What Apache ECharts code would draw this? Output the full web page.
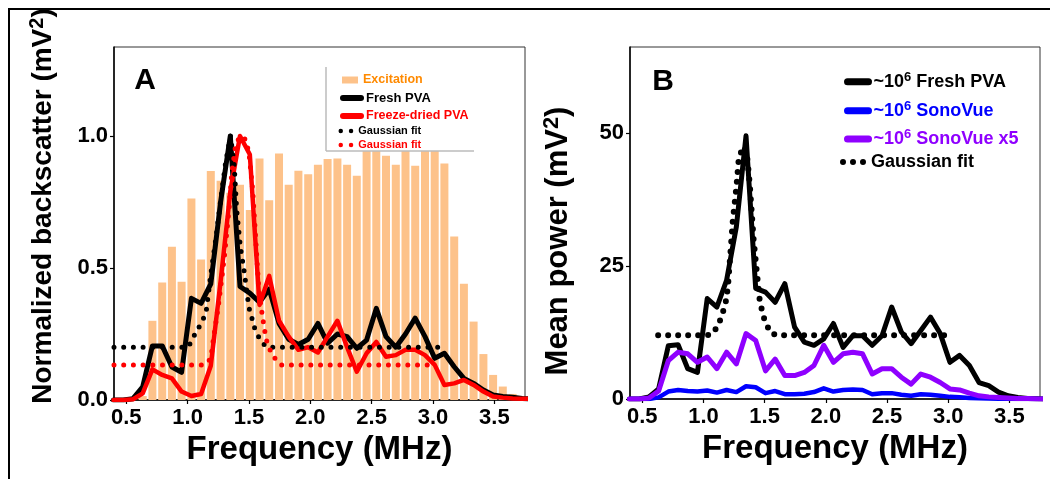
<!DOCTYPE html>
<html><head><meta charset="utf-8">
<script src="https://cdn.jsdelivr.net/npm/echarts@6/dist/echarts.min.js"></script>
<style>html,body{margin:0;padding:0;background:#fff}#c{width:1054px;height:479px}</style>
</head><body><div id="c"></div><script>
// ---------- data ----------
const xTicks = [0.5, 1.0, 1.5, 2.0, 2.5, 3.0, 3.5];
const yTicksA = [0, 0.5, 1.0];
const yTicksB = [0, 25, 50];

const freqBars = [0.634, 0.713, 0.793, 0.872, 0.951, 1.031, 1.110, 1.189, 1.269, 1.348,
  1.427, 1.507, 1.586, 1.665, 1.745, 1.824, 1.903, 1.983, 2.062, 2.141,
  2.221, 2.300, 2.379, 2.459, 2.538, 2.617, 2.697, 2.776, 2.855, 2.935,
  3.014, 3.093, 3.173, 3.252, 3.331, 3.411, 3.490, 3.569, 3.649, 3.728];
const excitation = [0.015, 0.30, 0.445, 0.58, 0.448, 0.763, 0.532, 0.867, 0.83, 0.785,
  0.815, 0.72, 0.915, 0.757, 0.934, 0.815, 0.868, 0.855, 0.891, 0.913,
  0.915, 0.891, 0.849, 0.97, 0.99, 0.925, 0.891, 0.96, 0.887, 0.98,
  0.97, 0.896, 0.619, 0.44, 0.297, 0.174, 0.095, 0.051, 0.023, 0.012];

const freqLines = [0.396, 0.476, 0.555, 0.634, 0.713, 0.793, 0.872, 0.951, 1.031, 1.110,
  1.189, 1.269, 1.348, 1.427, 1.507, 1.586, 1.665, 1.745, 1.824, 1.903,
  1.983, 2.062, 2.141, 2.221, 2.300, 2.379, 2.459, 2.538, 2.617, 2.697,
  2.776, 2.855, 2.935, 3.014, 3.093, 3.173, 3.252, 3.331, 3.411, 3.490,
  3.569, 3.649, 3.728, 3.808];
const freshA = [0, 0, 0.005, 0.05, 0.205, 0.205, 0.125, 0.105, 0.385, 0.366,
  0.44, 0.75, 1.0, 0.43, 0.405, 0.37, 0.42, 0.29, 0.23, 0.21,
  0.23, 0.29, 0.215, 0.25, 0.24, 0.196, 0.227, 0.347, 0.24, 0.2,
  0.25, 0.31, 0.24, 0.158, 0.177, 0.126, 0.082, 0.063, 0.038, 0.019,
  0.013, 0.01, 0.006, 0.004];
const freezeDriedA = [0, 0, 0.003, 0.025, 0.116, 0.095, 0.082, 0.032, 0.015, 0.023,
  0.13, 0.45, 0.79, 1.0, 0.93, 0.36, 0.47, 0.30, 0.24, 0.19,
  0.2, 0.18, 0.24, 0.30, 0.2, 0.107, 0.177, 0.22, 0.164, 0.17,
  0.19, 0.19, 0.17, 0.133, 0.057, 0.063, 0.076, 0.057, 0.032, 0.013,
  0.009, 0.006, 0.005, 0.004];

const fitFreshAx = [0.40, 1.00, 1.03, 1.06, 1.11, 1.15, 1.19, 1.23, 1.27, 1.31, 1.35,
  1.38, 1.40, 1.43, 1.46, 1.50, 1.53, 1.55, 1.60, 1.65, 3.07];
const fitFreshAy = [0.20, 0.20, 0.22, 0.25, 0.29, 0.33, 0.48, 0.61, 0.76, 0.90, 1.00,
  0.886, 0.72, 0.58, 0.49, 0.35, 0.30, 0.266, 0.22, 0.20, 0.20];
const fitFreezeAx = [0.40, 1.12, 1.16, 1.19, 1.21, 1.25, 1.30, 1.34, 1.36, 1.39, 1.42,
  1.445, 1.47, 1.50, 1.53, 1.555, 1.58, 1.61, 1.64, 1.68, 1.72, 1.76, 2.96];
const fitFreezeAy = [0.133, 0.133, 0.14, 0.16, 0.23, 0.354, 0.544, 0.734, 0.861, 0.96, 0.994,
  1.0, 0.987, 0.937, 0.797, 0.61, 0.42, 0.316, 0.23, 0.18, 0.152, 0.133, 0.133];

const freshB = [0, 0, 0.4, 1.9, 10.0, 10.2, 5.7, 5.0, 18.9, 17.3,
  22.3, 32.4, 49.5, 20.8, 20.1, 18.2, 21.7, 13.5, 10.7, 10.1,
  11.3, 14.2, 9.7, 11.9, 11.9, 10.1, 11.9, 17.3, 12.6, 10.4,
  12.9, 15.4, 12.3, 6.9, 8.2, 6.3, 3.1, 2.5, 1.3, 0.6,
  0.3, 0.1, 0.05, 0];
const sonoVueB = [0, 0, 0, 0.3, 1.4, 1.7, 1.5, 1.4, 1.6, 1.2,
  1.7, 1.3, 2.4, 2.2, 1.1, 1.5, 0.9, 0.9, 1.0, 1.3,
  2.0, 1.4, 1.7, 1.8, 1.7, 0.9, 1.1, 1.1, 0.8, 0.6,
  0.9, 0.8, 0.6, 0.4, 0.35, 0.2, 0.12, 0.08, 0.05, 0.04,
  0.02, 0.01, 0, 0];
const sonoVueX5B = [0, 0, 0.2, 1.5, 7.2, 8.8, 8.5, 6.9, 7.9, 5.7,
  8.8, 6.6, 12.3, 11.0, 5.3, 7.5, 4.4, 4.4, 5.0, 6.3,
  10.1, 6.9, 8.5, 8.8, 8.5, 4.7, 5.7, 5.7, 4.1, 2.8,
  4.7, 4.1, 3.1, 1.9, 1.7, 1.1, 0.6, 0.4, 0.3, 0.2,
  0.1, 0.1, 0, 0];
const fitBx = [0.63, 1.03, 1.07, 1.12, 1.15, 1.18, 1.20, 1.24, 1.27, 1.29, 1.33,
  1.36, 1.38, 1.41, 1.435, 1.46, 1.49, 1.52, 1.55, 1.60, 3.03];
const fitBy = [12, 12, 12.2, 13.8, 15.7, 17.9, 21, 33.6, 40, 45.6, 47.5,
  45, 40, 30, 24.2, 18.5, 15.5, 13.8, 12.4, 12, 12];

// ---------- chart ----------
const pairs = (xs, ys) => xs.map((x, i) => [x, ys[i]]);
const FONT = '"Liberation Sans", Arial, sans-serif';
const chart = echarts.init(document.getElementById('c'), null, {renderer: 'canvas'});

function xAxisCfg(grid) {
  return {
    type: 'value', gridIndex: grid, min: 0.4, max: 3.75,
    axisLine: {show: true, onZero: false, lineStyle: {color: '#000', width: 1.5}},
    axisTick: {show: true, customValues: xTicks, length: 4, lineStyle: {color: '#000', width: 1.2}},
    axisLabel: {customValues: xTicks, formatter: v => v.toFixed(1), color: '#000', fontSize: 22,
      fontWeight: 'bold', fontFamily: FONT, margin: 7},
    splitLine: {show: false},
    name: 'Frequency (MHz)', nameLocation: 'middle', nameGap: 30,
    nameTextStyle: {fontSize: 33, fontWeight: 'bold', color: '#000', fontFamily: FONT}
  };
}
function yAxisCfg(grid, max, ticks, fmt, name, size, gap, pad) {
  return {
    type: 'value', gridIndex: grid, min: 0, max: max,
    axisLine: {show: true, lineStyle: {color: '#000', width: 1.5}},
    axisTick: {show: true, customValues: ticks, length: 4, lineStyle: {color: '#000', width: 1.2}},
    axisLabel: {customValues: ticks, formatter: fmt, color: '#000', fontSize: 22,
      fontWeight: 'bold', fontFamily: FONT, margin: 6},
    splitLine: {show: false},
    name: name, nameLocation: 'middle', nameGap: gap,
    nameTextStyle: {padding: pad, rich: {
      t: {fontSize: size, fontWeight: 'bold', color: '#000', fontFamily: FONT, lineHeight: size + 4},
      s: {fontSize: Math.round(size * 0.7), fontWeight: 'bold', color: '#000', fontFamily: FONT,
          lineHeight: Math.round(size * 0.7), verticalAlign: 'top'}
    }}
  };
}

const dotStyle = (color, w, gap) => ({color: color, width: w, type: [0, gap], cap: 'round', join: 'round'});
const solid = (color, w) => ({color: color, width: w, cap: 'round', join: 'round'});
function lineSeries(name, xi, yi, data, ls, z) {
  return {type: 'line', name: name, xAxisIndex: xi, yAxisIndex: yi, data: data, symbol: 'none',
    showSymbol: false, clip: true, lineStyle: ls, itemStyle: {color: ls.color}, z: z, silent: true};
}

const legA = (name, left, top, opts) => Object.assign({
  data: [name], left: left, top: top, padding: 0, orient: 'horizontal', selectedMode: false, z: 20,
  itemGap: 0
}, opts);

const supRich = (c) => ({
  a: {fontSize: 18, fontWeight: 'bold', color: c, fontFamily: FONT, lineHeight: 22},
  s: {fontSize: 13, fontWeight: 'bold', color: c, fontFamily: FONT, lineHeight: 13, verticalAlign: 'top'}
});
const twoDots = 'path://M0,2.25a2.25,2.25 0 1,0 4.5,0a2.25,2.25 0 1,0 -4.5,0M10.3,2.25a2.25,2.25 0 1,0 4.5,0a2.25,2.25 0 1,0 -4.5,0';
const threeDots = 'path://M0,3a3,3 0 1,0 6,0a3,3 0 1,0 -6,0M10,3a3,3 0 1,0 6,0a3,3 0 1,0 -6,0M20,3a3,3 0 1,0 6,0a3,3 0 1,0 -6,0';

const option = {
  animation: false,
  backgroundColor: '#fff',
  grid: [
    {left: 114, top: 47, width: 411, height: 353, show: true, borderColor: '#333', borderWidth: 1},
    {left: 630, top: 47, width: 410, height: 352, show: true, borderColor: '#333', borderWidth: 1}
  ],
  xAxis: [xAxisCfg(0), xAxisCfg(1)],
  yAxis: [
    yAxisCfg(0, 1.337, yTicksA, v => v.toFixed(1), '{t|Normalized backscatter (mV}{s|2}{t|)}', 28, 55, [0, 0, 0, 35]),
    yAxisCfg(1, 66.2, yTicksB, v => String(v), '{t|Mean power (mV}{s|2}{t|)}', 31, 54, [0, 36, 0, 0])
  ],
  legend: [
    legA('Excitation', 342, 72, {itemWidth: 16, itemHeight: 7, icon: 'rect',
      textStyle: {color: '#FF8A00', fontSize: 12.5, fontWeight: 'bold', fontFamily: FONT, lineHeight: 16}}),
    legA('Fresh PVA', 340, 90, {itemWidth: 18, itemHeight: 6, lineStyle: {width: 6},
      textStyle: {color: '#000', fontSize: 13, fontWeight: 'bold', fontFamily: FONT, lineHeight: 16}}),
    legA('Freeze-dried PVA', 340, 108, {itemWidth: 18, itemHeight: 6, lineStyle: {width: 6},
      textStyle: {color: '#FF0000', fontSize: 12.5, fontWeight: 'bold', fontFamily: FONT, lineHeight: 16}}),
    legA('Gaussian fit (fresh)', 338.5, 123, {itemWidth: 14.8, itemHeight: 4.5, icon: twoDots,
      itemStyle: {borderWidth: 0}, formatter: () => 'Gaussian fit',
      textStyle: {color: '#000', fontSize: 11, fontWeight: 'bold', fontFamily: FONT, lineHeight: 16}}),
    legA('Gaussian fit (freeze-dried)', 338.5, 137, {itemWidth: 14.8, itemHeight: 4.5, icon: twoDots,
      itemStyle: {borderWidth: 0}, formatter: () => 'Gaussian fit',
      textStyle: {color: '#FF0000', fontSize: 11, fontWeight: 'bold', fontFamily: FONT, lineHeight: 16}}),
    legA('~10⁶ Fresh PVA', 844, 70.7, {itemWidth: 21, itemHeight: 7, lineStyle: {width: 7},
      formatter: () => '{a|~10}{s|6}{a| Fresh PVA}', textStyle: {rich: supRich('#000')}}),
    legA('~10⁶ SonoVue', 844, 99.7, {itemWidth: 21, itemHeight: 7, lineStyle: {width: 7},
      formatter: () => '{a|~10}{s|6}{a| SonoVue}', textStyle: {rich: supRich('#0000FF')}}),
    legA('~10⁶ SonoVue x5', 844, 128, {itemWidth: 21, itemHeight: 7, lineStyle: {width: 7},
      formatter: () => '{a|~10}{s|6}{a| SonoVue x5}', textStyle: {rich: supRich('#8F00FF')}}),
    legA('Gaussian fit', 840, 153, {itemWidth: 26, itemHeight: 6, icon: threeDots,
      itemStyle: {borderWidth: 0},
      formatter: () => '{a|Gaussian fit}', textStyle: {rich: supRich('#000')}})
  ],
  series: [
    {type: 'bar', name: 'Excitation', xAxisIndex: 0, yAxisIndex: 0, data: pairs(freqBars, excitation),
      barWidth: 8, itemStyle: {color: '#FDC28A'}, z: 1, silent: true},
    lineSeries('Fresh PVA', 0, 0, pairs(freqLines, freshA), solid('#000', 5), 3),
    lineSeries('Freeze-dried PVA', 0, 0, pairs(freqLines, freezeDriedA), solid('#FF0000', 4.5), 4),
    lineSeries('Gaussian fit (fresh)', 0, 0, pairs(fitFreshAx, fitFreshAy), dotStyle('#000', 5, 9.7), 5),
    lineSeries('Gaussian fit (freeze-dried)', 0, 0, pairs(fitFreezeAx, fitFreezeAy), dotStyle('#FF0000', 5, 9.7), 6),
    lineSeries('~10⁶ Fresh PVA', 1, 1, pairs(freqLines, freshB), solid('#000', 5), 3),
    lineSeries('~10⁶ SonoVue', 1, 1, pairs(freqLines, sonoVueB), solid('#0000FF', 4.5), 4),
    lineSeries('~10⁶ SonoVue x5', 1, 1, pairs(freqLines, sonoVueX5B), solid('#8F00FF', 5), 5),
    lineSeries('Gaussian fit', 1, 1, pairs(fitBx, fitBy), dotStyle('#000', 6, 10), 6)
  ],
  graphic: {elements: [
    {type: 'rect', z: 10, shape: {x: 326, y: 67, width: 148, height: 84}, style: {fill: '#fff'}},
    {type: 'line', z: 11, shape: {x1: 326, y1: 67, x2: 326, y2: 151}, style: {stroke: '#BBBBBB', lineWidth: 1.5}},
    {type: 'line', z: 11, shape: {x1: 326, y1: 151, x2: 474, y2: 151}, style: {stroke: '#BBBBBB', lineWidth: 1.5}},
    {type: 'line', z: 11, shape: {x1: 8, y1: 9, x2: 1050, y2: 9}, style: {stroke: '#000', lineWidth: 2}},
    {type: 'line', z: 11, shape: {x1: 9, y1: 9, x2: 9, y2: 479}, style: {stroke: '#000', lineWidth: 2}},
    {type: 'text', z: 12, x: 145, y: 81, style: {text: 'A', fontSize: 30, fontWeight: 'bold', fontFamily: FONT,
      fill: '#000', align: 'center', verticalAlign: 'middle'}},
    {type: 'text', z: 12, x: 663, y: 82, style: {text: 'B', fontSize: 30, fontWeight: 'bold', fontFamily: FONT,
      fill: '#000', align: 'center', verticalAlign: 'middle'}}
  ]}
};
chart.setOption(option);
</script></body></html>
